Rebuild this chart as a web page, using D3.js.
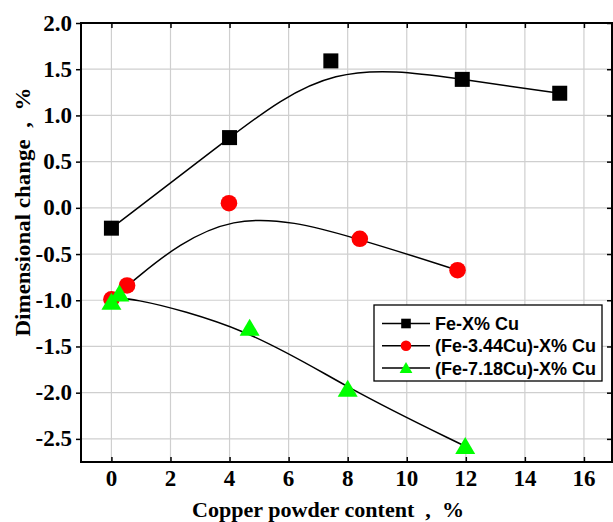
<!DOCTYPE html>
<html>
<head>
<meta charset="utf-8">
<script src="https://cdn.jsdelivr.net/npm/d3@7"></script>
<style>
  body { margin: 0; background: #fff; }
</style>
</head>
<body>
<div id="chart"></div>
<script>
var svgWidth = 613;
var svgHeight = 522;

// data
var feX = [0, 4, 7.43, 11.88, 15.18];
var feY = [-0.22, 0.76, 1.59, 1.39, 1.24];
var cu344X = [0, 0.53, 3.98, 8.41, 11.72];
var cu344Y = [-0.99, -0.84, 0.05, -0.335, -0.675];
var cu718X = [0, 0.27, 4.68, 8.0, 11.98];
var cu718Y = [-1.02, -0.93, -1.30, -1.96, -2.58];
var seriesNames = ["Fe-X% Cu", "(Fe-3.44Cu)-X% Cu", "(Fe-7.18Cu)-X% Cu"];
var xTicks = [0, 2, 4, 6, 8, 10, 12, 14, 16];
var yTicks = [-2.5, -2.0, -1.5, -1.0, -0.5, 0.0, 0.5, 1.0, 1.5, 2.0];

var margin = { top: 23, right: 1, bottom: 60, left: 81 };
var width = svgWidth - margin.left - margin.right;
var height = svgHeight - margin.top - margin.bottom;

var svg = d3.select("#chart").append("svg")
  .attr("width", svgWidth)
  .attr("height", svgHeight);

var chartGroup = svg.append("g")
  .attr("transform", `translate(${margin.left}, ${margin.top})`);

var xScale = d3.scaleLinear().domain([-1.03, 16.95]).range([0, width]);
var yScale = d3.scaleLinear().domain([-2.75, 2.0]).range([height, 0]);

// grid
chartGroup.append("g").selectAll("line")
  .data(xTicks).enter().append("line")
  .attr("x1", d => xScale(d)).attr("x2", d => xScale(d))
  .attr("y1", 0).attr("y2", height)
  .attr("stroke", "#cfcfcf").attr("stroke-width", 1.2);
chartGroup.append("g").selectAll("line")
  .data(yTicks).enter().append("line")
  .attr("y1", d => yScale(d)).attr("y2", d => yScale(d))
  .attr("x1", 0).attr("x2", width)
  .attr("stroke", "#cfcfcf").attr("stroke-width", 1.2);

// axes (ticks only, labels drawn by hand below)
var bottomAxis = d3.axisBottom(xScale).tickValues(xTicks).tickSize(-5).tickFormat("");
var topAxis = d3.axisTop(xScale).tickValues(xTicks).tickSize(-5).tickFormat("");
var leftAxis = d3.axisLeft(yScale).tickValues(yTicks).tickSize(5).tickFormat("");
var rightAxis = d3.axisRight(yScale).tickValues(yTicks).tickSize(-5).tickFormat("");

chartGroup.append("g").attr("transform", `translate(0, ${height})`).call(bottomAxis);
chartGroup.append("g").call(topAxis);
chartGroup.append("g").call(leftAxis);
chartGroup.append("g").attr("transform", `translate(${width}, 0)`).call(rightAxis);

chartGroup.selectAll(".domain").remove();
chartGroup.selectAll(".tick line").attr("stroke", "#000").attr("stroke-width", 1.5);

// tick labels, bold serif
var fmtY = d => d < 0 ? "-" + Math.abs(d).toFixed(1) : d.toFixed(1);
chartGroup.append("g").selectAll("text")
  .data(xTicks).enter().append("text")
  .attr("x", d => xScale(d)).attr("y", height + 24)
  .attr("text-anchor", "middle")
  .attr("font-family", "Liberation Serif, Times New Roman, serif")
  .attr("font-weight", "bold").attr("font-size", "23px")
  .text(d => d);
chartGroup.append("g").selectAll("text")
  .data(yTicks).enter().append("text")
  .attr("x", -9).attr("y", d => yScale(d) + 7.5)
  .attr("text-anchor", "end")
  .attr("font-family", "Liberation Serif, Times New Roman, serif")
  .attr("font-weight", "bold").attr("font-size", "23px")
  .text(fmtY);

// frame
chartGroup.append("rect")
  .attr("x", 0).attr("y", 0).attr("width", width).attr("height", height)
  .attr("fill", "none").attr("stroke", "#000").attr("stroke-width", 2);

// fitted curves
var line = d3.line()
  .x(d => xScale(d[0]))
  .y(d => yScale(d[1]))
  .curve(d3.curveBasis);

var series = [
  { name: seriesNames[0], pts: d3.zip(feX, feY), shape: "square", color: "#000" },
  { name: seriesNames[1], pts: d3.zip(cu344X, cu344Y), shape: "circle", color: "#ff0000" },
  { name: seriesNames[2], pts: d3.zip(cu718X, cu718Y), shape: "triangle", color: "#00ff00" }
];

series.forEach(function(s) {
  chartGroup.append("path")
    .attr("d", line(s.pts))
    .attr("fill", "none")
    .attr("stroke", "#000")
    .attr("stroke-width", 1.5);
});

function drawMarker(g, shape, color, cx, cy, k) {
  if (shape === "square") {
    g.append("rect").attr("x", cx - 7.5 * k).attr("y", cy - 7.5 * k)
      .attr("width", 15 * k).attr("height", 15 * k).attr("fill", color);
  } else if (shape === "circle") {
    g.append("circle").attr("cx", cx).attr("cy", cy).attr("r", 8.3 * k).attr("fill", color);
  } else {
    var w = 10 * k, h = 17 * k;
    g.append("path")
      .attr("d", `M${cx},${cy - h * 0.55}L${cx + w},${cy + h * 0.45}L${cx - w},${cy + h * 0.45}Z`)
      .attr("fill", color);
  }
}

series.forEach(function(s) {
  var g = chartGroup.append("g");
  s.pts.forEach(function(p) {
    drawMarker(g, s.shape, s.color, xScale(p[0]), yScale(p[1]), 1);
  });
});

// legend
var legend = svg.append("g").attr("transform", "translate(374, 305)");
legend.append("rect")
  .attr("width", 228).attr("height", 76)
  .attr("fill", "#fff").attr("stroke", "#000").attr("stroke-width", 1.3);
series.forEach(function(s, i) {
  var yy = 18.5 + i * 22.3;
  legend.append("line").attr("x1", 8).attr("x2", 56).attr("y1", yy).attr("y2", yy)
    .attr("stroke", "#000").attr("stroke-width", 1.5);
  drawMarker(legend, s.shape, s.color, 32, yy, 0.64);
  legend.append("text").attr("x", 61).attr("y", yy + 6.5)
    .attr("font-family", "Liberation Sans, Arial, sans-serif")
    .attr("font-weight", "bold").attr("font-size", "18px")
    .text(s.name);
});

// axis titles
svg.append("text")
  .attr("x", 328).attr("y", 517)
  .attr("text-anchor", "middle")
  .attr("font-family", "Liberation Serif, Times New Roman, serif")
  .attr("font-weight", "bold").attr("font-size", "21px")
  .attr("textLength", 272).attr("lengthAdjust", "spacingAndGlyphs")
  .attr("xml:space", "preserve")
  .text("Copper powder content  ,  %");

svg.append("text")
  .attr("transform", "translate(30, 212) rotate(-90)")
  .attr("text-anchor", "middle")
  .attr("font-family", "Liberation Serif, Times New Roman, serif")
  .attr("font-weight", "bold").attr("font-size", "21px")
  .attr("textLength", 249).attr("lengthAdjust", "spacingAndGlyphs")
  .attr("xml:space", "preserve")
  .text("Dimensional change  ,  %");
</script>
</body>
</html>
